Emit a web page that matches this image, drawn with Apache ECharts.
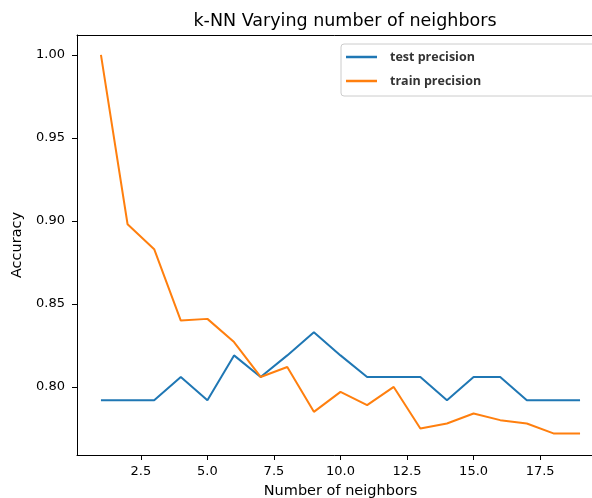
<!DOCTYPE html>
<html>
<head>
<meta charset="utf-8">
<script src="https://cdn.jsdelivr.net/npm/echarts@6/dist/echarts.min.js"></script>
<style>html,body{margin:0;padding:0;background:#fff}#c{width:592px;height:498px}</style>
</head>
<body>
<div id="c"></div>
<script>
const neighbors = [1,2,3,4,5,6,7,8,9,10,11,12,13,14,15,16,17,18,19];
const testPrecision = [0.792,0.792,0.792,0.806,0.792,0.819,0.806,0.819,0.833,0.819,0.806,0.806,0.806,0.792,0.806,0.806,0.792,0.792,0.792];
const trainPrecision = [1.000,0.898,0.883,0.840,0.841,0.827,0.806,0.812,0.785,0.797,0.789,0.800,0.775,0.778,0.784,0.780,0.778,0.772,0.772];
const xTicks = [2.5,5.0,7.5,10.0,12.5,15.0,17.5];
const yTicks = [0.80,0.85,0.90,0.95,1.00];
const seriesNames = ['test precision','train precision'];

const chart = echarts.init(document.getElementById('c'), null, {renderer:'canvas'});
const font = 'DejaVu Sans';
chart.setOption({
  animation:false,
  backgroundColor:'#fff',
  title:{text:'k-NN Varying number of neighbors', left:340, top:7, textAlign:'center',
    textStyle:{fontFamily:font,fontSize:17.5,fontWeight:'normal',color:'#000'}},
  grid:{left:77,right:-12,top:35,bottom:43,outerBoundsMode:'none',containLabel:false,show:false},
  legend:{orient:'vertical',left:341,top:44,padding:[6,220,8,5],itemGap:10,itemWidth:31,itemHeight:2.5,icon:'rect',
    borderColor:'#cccccc',borderWidth:1,borderRadius:3,backgroundColor:'#fff',
    textStyle:{fontFamily:'Open Sans',fontWeight:'bold',fontSize:12.5,color:'#333',lineHeight:14,padding:[0,0,0,8]},
    data:seriesNames},
  xAxis:[{type:'value',min:0.1,max:19.9,name:'Number of neighbors',nameLocation:'middle',nameGap:29,
    nameTextStyle:{fontFamily:font,fontSize:14.5,color:'#000'},
    axisLine:{show:true,onZero:false,lineStyle:{color:'#000',width:1}},
    axisTick:{show:true,length:5,lineStyle:{color:'#000'},customValues:xTicks},
    axisLabel:{fontFamily:font,fontSize:13,color:'#000',margin:10,customValues:xTicks,formatter:v=>v.toFixed(1)},
    splitLine:{show:false}},
   {type:'value',position:'top',min:0.1,max:19.9,
    axisLine:{show:true,onZero:false,lineStyle:{color:'#000',width:1}},
    axisTick:{show:false},axisLabel:{show:false},splitLine:{show:false}}],
  yAxis:{type:'value',min:0.759,max:1.012,name:'Accuracy',nameLocation:'middle',nameGap:50,
    nameTextStyle:{fontFamily:font,fontSize:14.5,color:'#000'},
    axisLine:{show:true,onZero:false,lineStyle:{color:'#000',width:1}},
    axisTick:{show:true,length:5,lineStyle:{color:'#000'},customValues:yTicks},
    axisLabel:{fontFamily:font,fontSize:13,color:'#000',margin:12,customValues:yTicks,formatter:v=>v.toFixed(2)},
    splitLine:{show:false}},
  series:[
    {name:seriesNames[0],type:'line',data:neighbors.map((k,i)=>[k,testPrecision[i]]),showSymbol:false,
      lineStyle:{color:'#1f77b4',width:2},itemStyle:{color:'#1f77b4'}},
    {name:seriesNames[1],type:'line',data:neighbors.map((k,i)=>[k,trainPrecision[i]]),showSymbol:false,
      lineStyle:{color:'#ff7f0e',width:2},itemStyle:{color:'#ff7f0e'}}
  ]
});
</script>
</body>
</html>
